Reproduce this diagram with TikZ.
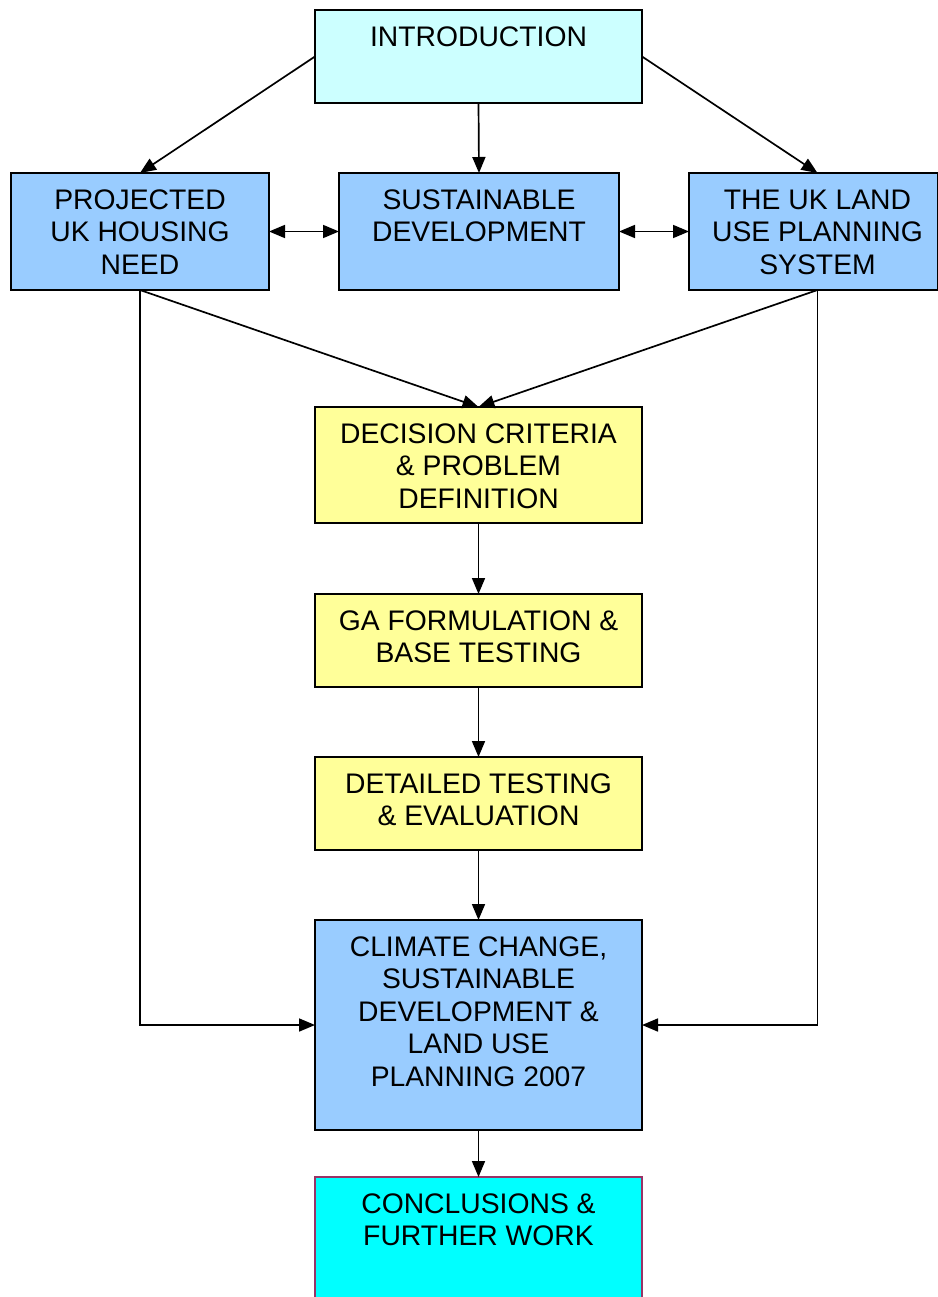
\documentclass[tikz,border=0pt]{standalone}
\usepackage{fontspec}
\setmainfont{Liberation Sans}
\usetikzlibrary{arrows.meta}
\definecolor{introfill}{HTML}{CCFFFF}
\definecolor{bluefill}{HTML}{99CCFF}
\definecolor{yellowfill}{HTML}{FFFF99}
\definecolor{cyanfill}{HTML}{00FFFF}
\definecolor{plumline}{HTML}{993366}
\begin{document}
\begin{tikzpicture}[x=1pt,y=-1pt,
  box/.style={draw=black, line width=1.8pt, anchor=north west, inner sep=0pt, outer sep=0pt},
  lbl/.style={anchor=north, align=center, inner sep=0pt, font=\fontsize{28.3}{32.5}\selectfont},
  arr/.style={line width=1.7pt, -{Triangle[length=16pt,width=13pt]}},
  dbl/.style={line width=1.7pt, {Triangle[length=16pt,width=13pt]}-{Triangle[length=16pt,width=13pt]}}]
\useasboundingbox (0,0) rectangle (937,1297);

% boxes
\node[box, fill=introfill,  minimum width=327pt, minimum height=93pt]  (intro) at (315,10)  {};
\node[box, fill=bluefill,   minimum width=258pt, minimum height=117pt] (proj)  at (11,173)  {};
\node[box, fill=bluefill,   minimum width=280pt, minimum height=117pt] (sd)    at (339,173) {};
\node[box, fill=bluefill,   minimum width=249pt, minimum height=117pt] (uk)    at (689,173) {};
\node[box, fill=yellowfill, minimum width=327pt, minimum height=116pt] (dec)   at (315,407) {};
\node[box, fill=yellowfill, minimum width=327pt, minimum height=93pt]  (ga)    at (315,594) {};
\node[box, fill=yellowfill, minimum width=327pt, minimum height=93pt]  (det)   at (315,757) {};
\node[box, fill=bluefill,   minimum width=327pt, minimum height=210pt] (clim)  at (315,920) {};
\node[box, fill=cyanfill, draw=plumline, minimum width=327pt, minimum height=140pt] (conc) at (315,1177) {};

% labels
\node[lbl] (introT) at ([yshift=-16.5pt]intro.north) {INTRODUCTION};
\node[lbl] (projT)  at ([yshift=-16.5pt]proj.north)  {PROJECTED\\UK HOUSING\\NEED};
\node[lbl] (sdT)    at ([yshift=-16.5pt]sd.north)    {SUSTAINABLE\\DEVELOPMENT};
\node[lbl] (ukT)    at ([yshift=-16.5pt,xshift=4pt]uk.north) {THE UK LAND\\USE PLANNING\\SYSTEM};
\node[lbl] (decT)   at ([yshift=-16.5pt]dec.north)   {DECISION CRITERIA\\\& PROBLEM\\DEFINITION};
\node[lbl] (gaT)    at ([yshift=-16.5pt]ga.north)    {GA FORMULATION \&\\BASE TESTING};
\node[lbl] (detT)   at ([yshift=-16.5pt]det.north)   {DETAILED TESTING\\\& EVALUATION};
\node[lbl] (climT)  at ([yshift=-16.5pt]clim.north)  {CLIMATE CHANGE,\\SUSTAINABLE\\DEVELOPMENT \&\\LAND USE\\PLANNING 2007};
\node[lbl] (concT)  at ([yshift=-16.5pt]conc.north)  {CONCLUSIONS \&\\FURTHER WORK};

% connectors
\draw[arr] (intro.west) -- (proj.north);
\draw[arr] (intro.south) -- (sd.north);
\draw[arr] (intro.east) -- ([xshift=4pt]uk.north);
\draw[dbl] (proj.east) -- (sd.west);
\draw[dbl] (sd.east) -- (uk.west);
\draw[arr] (proj.south) -- (dec.north);
\draw[arr] ([xshift=4pt]uk.south) -- (dec.north);
\draw[arr] (proj.south) |- (clim.west);
\draw[arr] ([xshift=4pt]uk.south) |- (clim.east);
\draw[arr] (dec.south) -- (ga.north);
\draw[arr] (ga.south) -- (det.north);
\draw[arr] (det.south) -- (clim.north);
\draw[arr] (clim.south) -- (conc.north);
\end{tikzpicture}
\end{document}
